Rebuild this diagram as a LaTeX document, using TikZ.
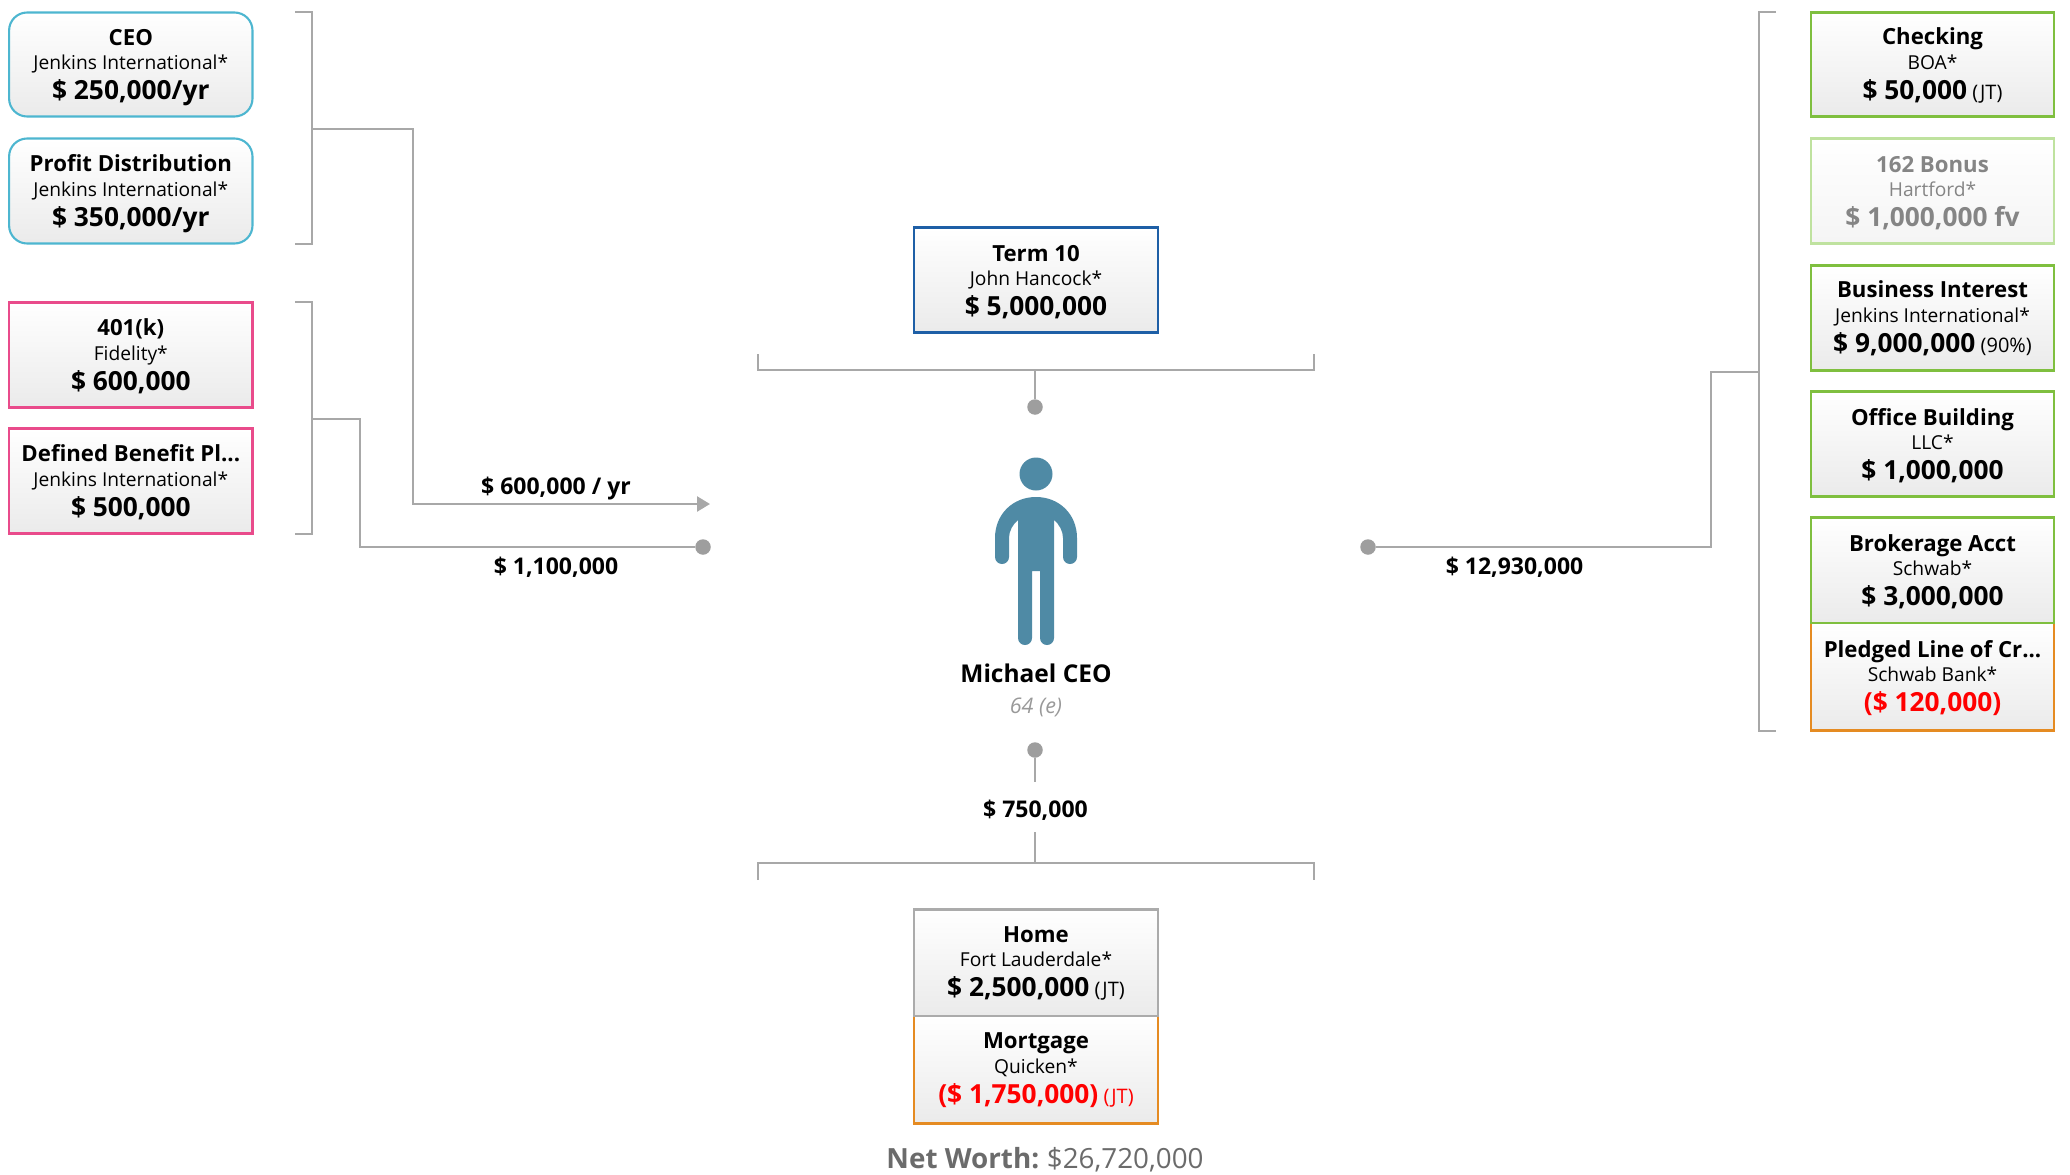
\documentclass[tikz,border=0pt]{standalone}
\usepackage{fontspec}
\setmainfont{Open Sans}
\usetikzlibrary{arrows.meta}
\definecolor{cCyan}{HTML}{4DB6D0}
\definecolor{cPink}{HTML}{E94B8B}
\definecolor{cGreen}{HTML}{7FBF3F}
\definecolor{cLight}{HTML}{BFE29F}
\definecolor{cOrange}{HTML}{E58B22}
\definecolor{cGrey}{HTML}{ABABAB}
\definecolor{cBlue}{HTML}{1E5FA6}
\definecolor{cLine}{HTML}{A8A8A8}
\definecolor{cDot}{HTML}{9E9E9E}
\definecolor{cMan}{HTML}{4F8AA5}
\definecolor{cFade}{HTML}{858585}
\definecolor{cRed}{HTML}{FF0000}
\newcommand{\ftitle}{\fontsize{22.2}{26}\selectfont\bfseries}
\newcommand{\fsub}{\fontsize{19.2}{22}\selectfont}
\newcommand{\fval}{\fontsize{26.3}{30}\selectfont\bfseries}
\newcommand{\fsuf}{\fontsize{20}{22}\selectfont\mdseries}
\newcommand{\flab}{\fontsize{23}{26}\selectfont\bfseries}
\newcommand{\sufgap}{\hspace{-1.5pt}}
\newcommand{\dyv}{0}
\newcommand{\dyt}{0}
\newcommand{\setdy}[2]{\renewcommand{\dyv}{#1}\renewcommand{\dyt}{#2}}
% \finbox{name}{cx}{top}{bottom}{style}{title}{sub}{value}
\newcommand{\finbox}[8]{%
  \path[#5] (#2-121.7,#3+1) rectangle (#2+121.7,#4-1);
  \node[txt,#5text] (#1t) at (#2,#3+33.5+\dyv+\dyt) {\ftitle #6};
  \node[txt,#5text] (#1s) at (#2,#3+57.5+\dyv) {\fsub #7};
  \node[txt,#5text] (#1v) at (#2,#3+87.5+\dyv) {\fval #8};
}
\tikzset{
  x=1pt,y=-1pt,
  txt/.style={anchor=base,inner sep=0pt,outer sep=0pt,text=black},
  wire/.style={draw=cLine,line width=2.5pt,line cap=butt,line join=miter},
  pt/.style={circle,fill=cDot,minimum size=15.5pt,inner sep=0pt},
  base/.style={line width=2.1pt,top color=white,bottom color=black!8},
  cyanb/.style={base,draw=cCyan,rounded corners=18pt},
  pinkb/.style={base,draw=cPink},
  greenb/.style={base,draw=cGreen},
  lightb/.style={line width=2.1pt,draw=cLight,top color=white,bottom color=black!4},
  orangeb/.style={base,draw=cOrange},
  greyb/.style={base,draw=cGrey},
  blueb/.style={base,draw=cBlue},
  cyanbtext/.style={},pinkbtext/.style={},greenbtext/.style={},orangebtext/.style={},greybtext/.style={},bluebtext/.style={},
  lightbtext/.style={text=cFade},
}
\begin{document}
\begin{tikzpicture}
\useasboundingbox (0,0) rectangle (2070,1175);
% left boxes
\setdy{0}{0}
\finbox{ceo}{130.8}{11.5}{117.5}{cyanb}{CEO}{Jenkins International*}{\$ 250,000/yr}
\setdy{1}{-1}
\finbox{pd}{130.8}{137.5}{244.5}{cyanb}{Profit Distribution}{Jenkins International*}{\$ 350,000/yr}
\finbox{k}{130.8}{301.5}{408.5}{pinkb}{401(k)}{Fidelity*}{\$ 600,000}
\finbox{db}{130.8}{427.5}{534.5}{pinkb}{Defined Benefit Pl...}{Jenkins International*}{\$ 500,000}
% right boxes
\setdy{0}{-1}
\finbox{chk}{1932.5}{11.5}{117.5}{greenb}{Checking}{BOA*}{\$ 50,000\sufgap{} {\fsuf (JT)}}
\setdy{1}{0}
\finbox{bon}{1932.5}{137.5}{244.5}{lightb}{162 Bonus}{Hartford*}{\$ 1,000,000 fv}
\setdy{0}{-1}
\finbox{biz}{1932.5}{264.5}{371.5}{greenb}{Business Interest}{Jenkins International*}{\$ 9,000,000\sufgap{} {\fsuf (90\%)}}
\setdy{1}{0}
\finbox{off}{1932.5}{390.5}{497.5}{greenb}{Office Building}{LLC*}{\$ 1,000,000}
\setdy{2}{0}
\finbox{pl}{1932.5}{622}{731.5}{orangeb}{Pledged Line of Cr...}{Schwab Bank*}{\textcolor{cRed}{(\$ 120,000)}}
\setdy{1}{0}
\finbox{brk}{1932.5}{516.5}{624}{greenb}{Brokerage Acct}{Schwab*}{\$ 3,000,000}
% centre boxes
\setdy{1}{0}
\finbox{term}{1036}{226.5}{333.5}{blueb}{Term 10}{John Hancock*}{\$ 5,000,000}
\setdy{1}{-1}
\finbox{mtg}{1036}{1015}{1124.5}{orangeb}{Mortgage}{Quicken*}{\textcolor{cRed}{(\$ 1,750,000)\sufgap{} {\fsuf (JT)}}}
\setdy{0}{0}
\finbox{home}{1036}{908.5}{1017}{greyb}{Home}{Fort Lauderdale*}{\$ 2,500,000\sufgap{} {\fsuf (JT)}}
% person
\fill[cMan] (1036,474) circle[radius=16.5];
\fill[cMan] (995,557) -- (995,538) .. controls (995,514) and (1013,497) .. (1036,497)
  .. controls (1059,497) and (1077,514) .. (1077,538) -- (1077,557)
  arc[start angle=0,end angle=180,radius=7] -- (1063,538)
  .. controls (1063,531) and (1059,524) .. (1054,520) -- (1054,638)
  arc[start angle=0,end angle=180,radius=7] -- (1040,571) -- (1032,571) -- (1032,638)
  arc[start angle=0,end angle=180,radius=7] -- (1018,520)
  .. controls (1013,524) and (1009,531) .. (1009,538) -- (1009,557)
  arc[start angle=0,end angle=180,radius=7] -- cycle;
\node[txt] (name) at (1036,682) {\fontsize{24.5}{28}\selectfont\bfseries Michael CEO};
\node[txt,text=black!40] (age) at (1036,713) {\fontsize{21.5}{24}\selectfont\itshape 64 (e)};
% dots and free ends
\node[pt] (dotL) at (703,547) {};
\node[pt] (dotR) at (1368,547) {};
\node[pt] (dotT) at (1035,407) {};
\node[pt] (dotB) at (1035,750) {};
\coordinate (arrowEnd) at (710,504);
\coordinate (b1a) at (295,12);  \coordinate (b1b) at (312,12);
\coordinate (b1c) at (312,244); \coordinate (b1d) at (295,244);
\coordinate (b1m) at (312,129);
\coordinate (b2a) at (295,302); \coordinate (b2b) at (312,302);
\coordinate (b2c) at (312,534); \coordinate (b2d) at (295,534);
\coordinate (b2m) at (312,419);
\coordinate (b3a) at (1776,12);  \coordinate (b3b) at (1759,12);
\coordinate (b3c) at (1759,731); \coordinate (b3d) at (1776,731);
\coordinate (b3m) at (1759,372);
\coordinate (b4a) at (758,354);  \coordinate (b4b) at (758,370);
\coordinate (b4c) at (1314,370); \coordinate (b4d) at (1314,354);
\coordinate (b4m) at (1035,370);
\coordinate (b5a) at (758,880);  \coordinate (b5b) at (758,863);
\coordinate (b5c) at (1314,863); \coordinate (b5d) at (1314,880);
\coordinate (b5m) at (1035,863);
\coordinate (b5s) at (1035,832);
\coordinate (dotBend) at (1035,782);
% brackets
\draw[wire] (b1a) -- (b1b) -- (b1c) -- (b1d);
\draw[wire] (b2a) -- (b2b) -- (b2c) -- (b2d);
\draw[wire] (b3a) -- (b3b) -- (b3c) -- (b3d);
\draw[wire] (b4a) -- (b4b) -- (b4c) -- (b4d);
\draw[wire] (b5a) -- (b5b) -- (b5c) -- (b5d);
% connectors
\draw[wire,-{Triangle[length=13pt,width=15pt]}] (b1m) -- (413,129) -- (413,504) -- (arrowEnd);
\draw[wire] (b2m) -- (360,419) -- (360,547) -- (dotL);
\draw[wire] (b3m) -- (1711,372) -- (1711,547) -- (dotR);
\draw[wire] (b4m) -- (dotT);
\draw[wire] (dotB) -- (dotBend);
\draw[wire] (b5s) -- (b5m);
% labels
\node[txt] (l1) at (556,494) {\flab \$ 600,000 / yr};
\node[txt] (l2) at (556,574) {\flab \$ 1,100,000};
\node[txt] (l3) at (1514.5,574) {\flab \$ 12,930,000};
\node[txt] (l4) at (1035.5,817) {\flab \$ 750,000};
\node[txt,text=black!58] (nw) at (1045,1168) {\fontsize{27.8}{32}\selectfont\bfseries Net Worth:\hspace{-2pt} \mdseries\$26,720,000};
\end{tikzpicture}
\end{document}
